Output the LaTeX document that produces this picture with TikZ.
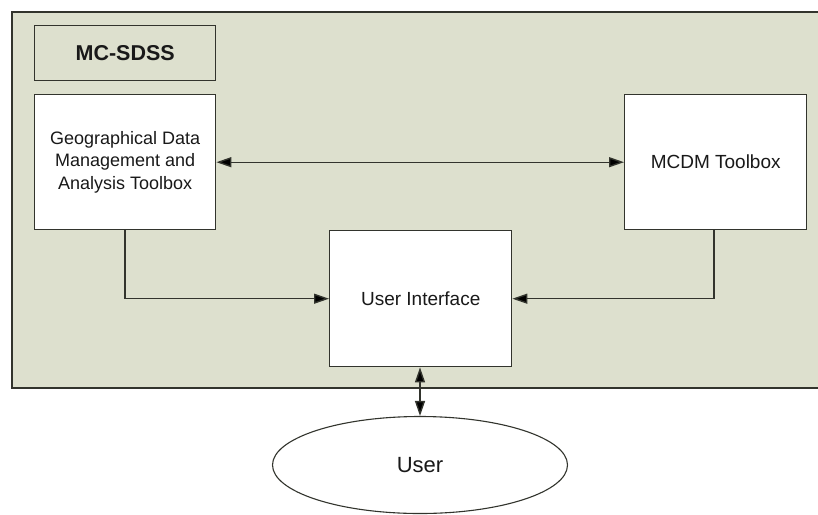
\documentclass[tikz,border=0pt]{standalone}
\usepackage{fontspec}
\setmainfont{Liberation Sans}
\usetikzlibrary{arrows.meta,shapes.geometric}
\definecolor{panel}{RGB}{221,224,206}
\definecolor{edge}{RGB}{50,52,45}
\definecolor{ink}{RGB}{25,25,25}
\tikzset{
  tip/.tip={Triangle[length=15pt,width=10pt,fill=black]},
  box/.style={draw=edge, line width=1.4pt, fill=white, inner sep=0pt, align=center, text=ink},
  link/.style={draw=edge, line width=1.4pt, -tip},
  both/.style={draw=edge, line width=1.4pt, tip-tip},
}
\begin{document}
\begin{tikzpicture}[x=1pt,y=-1pt]
\useasboundingbox (0,0) rectangle (818,514);
% system boundary panel
\fill[white] (0,0) rectangle (818,514);
\draw[draw=edge, line width=1.4pt, fill=panel] (12,12) rectangle (840,388);
% title block
\node[box, fill=panel, minimum width=181pt, minimum height=55pt, anchor=north west,
      font=\fontsize{21.5}{25}\selectfont\bfseries] (title) at (34,25) {MC-SDSS};
% components
\node[box, minimum width=181pt, minimum height=135pt, anchor=north west,
      font=\fontsize{18}{22.5}\selectfont] (geo) at (34,94)
      {Geographical Data\\Management and\\Analysis Toolbox};
\node[box, minimum width=182pt, minimum height=135pt, anchor=north west,
      font=\fontsize{19}{23}\selectfont] (mcdm) at (624,94) {MCDM Toolbox};
\node[box, minimum width=182pt, minimum height=136pt, anchor=north west,
      font=\fontsize{19}{23}\selectfont] (ui) at (329,230) {User Interface};
\node[draw=edge, line width=1.1pt, fill=white, ellipse, minimum width=295pt, minimum height=97pt,
      inner sep=0pt, text=ink, font=\fontsize{22}{26}\selectfont] (user) at (420,465) {User};
% connectors
\draw[both] (geo.east) -- (mcdm.west);
\draw[link] (geo.south -| 125,0) |- (ui.west);
\draw[link] (mcdm.south -| 714,0) |- (ui.east);
\draw[both] (ui.south -| 420,0) -- (user.north);
\end{tikzpicture}
\end{document}
